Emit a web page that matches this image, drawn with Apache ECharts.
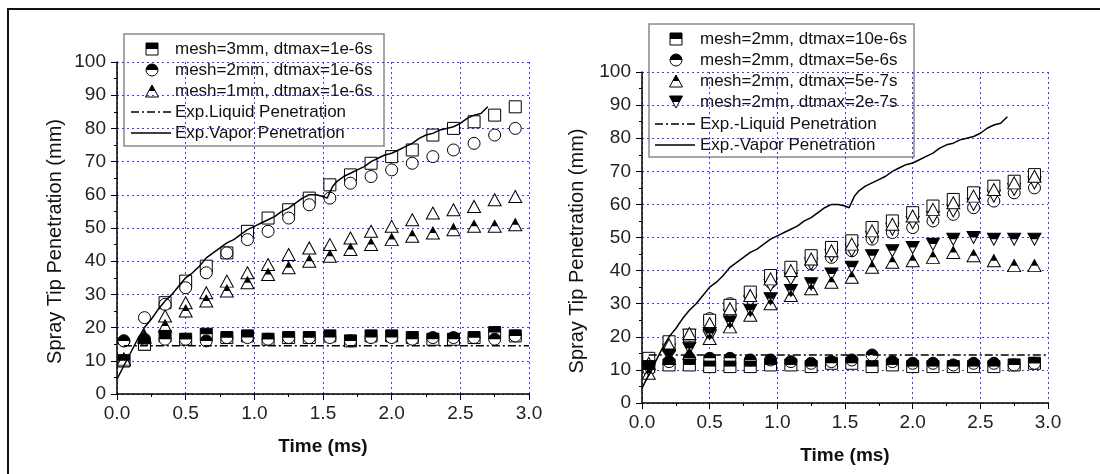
<!DOCTYPE html>
<html>
<head>
<meta charset="utf-8">
<script src="https://cdn.jsdelivr.net/npm/echarts@6/dist/echarts.min.js"></script>
<style>
  html, body { margin: 0; padding: 0; background: #fff; }
  #main { width: 1100px; height: 474px; }
</style>
</head>
<body>
<div id="main"></div>
<script>
  // simulation output times (ms)
  const times = [0.05, 0.2, 0.35, 0.5, 0.65, 0.8, 0.95, 1.1, 1.25, 1.4, 1.55, 1.7, 1.85, 2.0, 2.15, 2.3, 2.45, 2.6, 2.75, 2.9];

  // experiment
  const expTime = [0, 0.05, 0.1, 0.15, 0.2, 0.25, 0.3, 0.35, 0.4, 0.45, 0.5, 0.55, 0.6, 0.65, 0.7, 0.75, 0.8, 0.85, 0.9, 0.95, 1.0, 1.05, 1.1, 1.15, 1.2, 1.25, 1.3, 1.35, 1.4, 1.45, 1.5, 1.53, 1.57, 1.6, 1.65, 1.7, 1.75, 1.8, 1.85, 1.9, 1.95, 2.0, 2.05, 2.1, 2.15, 2.2, 2.25, 2.3, 2.35, 2.4, 2.45, 2.5, 2.55, 2.6, 2.65, 2.7];
  const expVapor = [4.5, 8.5, 12.5, 16.5, 20, 22.5, 25.5, 28, 30, 32.5, 35, 36.5, 38.5, 41, 42.5, 44, 45.5, 46.5, 48, 49.5, 50.5, 51.5, 52.5, 53.5, 55, 56, 57.5, 59, 60, 60, 59.5, 59, 62.5, 64, 65.5, 66.5, 67.5, 68.5, 70, 71, 72, 72.5, 73.5, 74.5, 75.5, 77, 78, 78.5, 79.5, 80, 80.5, 81.5, 83, 84, 84.5, 86.5];
  const expLiquidTime = [0.05, 3.0];
  const expLiquid = [14.5, 14.5];

  // left panel: mesh study, dtmax=1e-6s
  const mesh3Vapor  = [10, 15, 27.5, 34, 38.5, 42.5, 49, 53, 55.5, 59, 63, 66, 69.5, 71.5, 73.5, 78, 80, 82, 84, 86.5];
  const mesh3Liquid = [10, 15, 17.5, 16.5, 18, 17, 17.5, 16.5, 17, 17, 17.5, 16, 17.5, 17.5, 17, 16.5, 16.5, 17, 18.5, 17.5];
  const mesh2Vapor  = [16, 23, 27, 32, 36.5, 42.5, 46.5, 49, 53, 57, 59, 63.5, 65.5, 67.5, 69.5, 71.5, 73.5, 75.5, 78, 80];
  const mesh2Liquid = [16, 16.5, 16.5, 16.5, 16, 17, 17, 16.5, 17, 17, 17, 16, 17, 17, 16.5, 17, 17, 17, 16.5, 17.5];
  const mesh1Vapor  = [10.5, 17.5, 23.5, 27.5, 30.5, 34, 36.5, 39, 42, 44, 45, 47, 49, 50.5, 52.5, 54.5, 55.5, 56.5, 58.5, 59.5];
  const mesh1Liquid = [10.5, 17, 20.5, 25, 28, 31, 33.5, 36, 38, 40, 41.5, 43.5, 45, 46.5, 47.5, 48.5, 49.5, 50.5, 50.5, 51];

  // right panel: time step study, mesh=2mm
  const dt10e6Vapor  = [13.5, 18.5, 20.5, 25, 29.5, 33.5, 38.5, 41, 44.5, 47, 49, 53, 55, 57.5, 59.5, 61.5, 63.5, 65.5, 67, 69];
  const dt10e6Liquid = [11, 11.5, 11.5, 11, 11, 11, 11.5, 11.5, 11, 12, 12, 11, 11.5, 11, 11, 11, 11, 11, 11.5, 12];
  const dt5e6Vapor   = [11, 16, 19, 25.5, 30, 32.5, 36.5, 39, 42, 44, 46, 49.5, 51.5, 53, 55, 57, 59, 61, 63.5, 65];
  const dt5e6Liquid  = [10, 12.5, 13.5, 13.5, 13.5, 13, 13, 12.5, 12, 12.5, 13, 14.5, 12.5, 12, 12, 11.5, 12, 12, 11.5, 12];
  const dt5e7Vapor   = [12, 17.5, 21, 24, 28.5, 32.5, 37.5, 40, 43.5, 46, 48, 52, 54, 56.5, 58.5, 60.5, 62.5, 64.5, 66.5, 68.5];
  const dt5e7Liquid  = [9, 13.5, 15, 19.5, 23, 26.5, 30, 32.5, 34.5, 36.5, 38, 41, 42.5, 43, 44, 45.5, 44.5, 43, 41.5, 41.5];
  const dt2e7Vapor   = [11, 16, 20.5, 20, 26.5, 30.5, 35.5, 37.5, 42, 44.5, 46, 50, 52.5, 54.5, 56, 58, 60, 62.5, 64.5, 66.5];
  const dt2e7Liquid  = [10, 14.5, 16.5, 21, 24.5, 28, 31.5, 34, 36, 39, 41, 44.5, 46, 47, 48, 49.5, 50, 49.5, 49.5, 49.5];

  const FONT = '"Liberation Sans", Arial, sans-serif';
  const S = 12;

  // marker shapes: full outline + black top half
  const shapes = {
    square:   { sym: 'rect', size: [S, S], half: 'rect', halfSize: [S, S / 2] },
    circle:   { sym: 'circle', size: [S, S], half: 'path://M0,10 A10,10 0 0 1 20,10 Z', halfSize: [S, S / 2] },
    up:       { sym: 'triangle', size: [13, S], half: 'triangle', halfSize: [6.5, S / 2] },
    down:     { sym: 'path://M0,0 L20,0 L10,20 Z', size: [13, S], half: 'path://M0,0 L20,0 L15,10 L5,10 Z', halfSize: [13, S / 2] }
  };

  function pts(xs, ys) { return xs.map((x, i) => [x, ys[i]]); }

  function openSeries(g, shape, vals) {
    return {
      type: 'scatter', xAxisIndex: g, yAxisIndex: g,
      symbol: shapes[shape].sym, symbolSize: shapes[shape].size,
      itemStyle: { color: '#fff', borderColor: '#000', borderWidth: 1, opacity: 1 },
      data: pts(times, vals), z: 3
    };
  }
  function halfSeries(g, shape, vals) {
    return [
      openSeries(g, shape, vals),
      {
        type: 'scatter', xAxisIndex: g, yAxisIndex: g,
        symbol: shapes[shape].half, symbolSize: shapes[shape].halfSize,
        symbolOffset: [0, -S / 4],
        itemStyle: { color: '#000', borderWidth: 0, opacity: 1 },
        data: pts(times, vals), z: 4
      }
    ];
  }
  function expSeries(g) {
    return [
      { type: 'line', xAxisIndex: g, yAxisIndex: g, data: pts(expLiquidTime, expLiquid), symbol: 'none',
        lineStyle: { color: '#000', width: 1.5, type: [8, 3, 2, 3] }, z: 5 },
      { type: 'line', xAxisIndex: g, yAxisIndex: g, data: pts(expTime, expVapor), symbol: 'none',
        lineStyle: { color: '#000', width: 1.5 }, z: 5 }
    ];
  }

  const gridLine = { show: true, lineStyle: { color: '#3a3aff', width: 1, type: [2, 3] } };

  function xAxis(g) {
    return {
      gridIndex: g, type: 'value', min: 0, max: 3, interval: 0.5,
      name: 'Time (ms)', nameLocation: 'middle', nameGap: 43, nameMoveOverlap: false,
      nameTextStyle: { fontFamily: FONT, fontSize: 19, fontWeight: 'bold', color: '#111' },
      axisLine: { show: true, onZero: false, lineStyle: { color: '#000', width: 1.5 } },
      axisTick: { show: true, inside: false, length: 6, lineStyle: { color: '#000', width: 1 } },
      minorTick: { show: true, splitNumber: 2, length: 3, lineStyle: { color: '#000', width: 1 } },
      axisLabel: { fontFamily: FONT, fontSize: 19, color: '#222', margin: 10, formatter: v => v.toFixed(1) },
      splitLine: gridLine
    };
  }
  function yAxis(g, gap) {
    return {
      gridIndex: g, type: 'value', min: 0, max: 100, interval: 10,
      name: 'Spray Tip Penetration (mm)', nameLocation: 'middle', nameGap: gap, nameRotate: 90, nameMoveOverlap: false,
      nameTextStyle: { fontFamily: FONT, fontSize: 20, color: '#111', padding: [0, 27, 0, 0] },
      axisLine: { show: true, onZero: false, lineStyle: { color: '#000', width: 1.5 } },
      axisTick: { show: true, inside: false, length: 6, lineStyle: { color: '#000', width: 1 } },
      minorTick: { show: true, splitNumber: 2, length: 3, lineStyle: { color: '#000', width: 1 } },
      axisLabel: { fontFamily: FONT, fontSize: 19, color: '#222', margin: 11 },
      splitLine: gridLine
    };
  }

  // legend boxes drawn as graphics
  function icon(shape, cx, cy) {
    const out = { fill: '#fff', stroke: '#000', lineWidth: 1 };
    const blk = { fill: '#000' };
    if (shape === 'square') return [
      { type: 'rect', shape: { x: cx - 6, y: cy - 6, width: 12, height: 12 }, style: out },
      { type: 'rect', shape: { x: cx - 6, y: cy - 6, width: 12, height: 6 }, style: blk }];
    if (shape === 'circle') return [
      { type: 'circle', shape: { cx: cx, cy: cy, r: 6 }, style: out },
      { type: 'sector', shape: { cx: cx, cy: cy, r: 6, startAngle: Math.PI, endAngle: Math.PI * 2 }, style: blk }];
    if (shape === 'up') return [
      { type: 'polygon', shape: { points: [[cx, cy - 6], [cx - 6.5, cy + 6], [cx + 6.5, cy + 6]] }, style: out },
      { type: 'polygon', shape: { points: [[cx, cy - 6], [cx - 3.25, cy], [cx + 3.25, cy]] }, style: blk }];
    return [
      { type: 'polygon', shape: { points: [[cx - 6.5, cy - 6], [cx + 6.5, cy - 6], [cx, cy + 6]] }, style: out },
      { type: 'polygon', shape: { points: [[cx - 6.5, cy - 6], [cx + 6.5, cy - 6], [cx + 3.25, cy], [cx - 3.25, cy]] }, style: blk }];
  }
  function legend(box, rows, iconX, textX, lineX) {
    const els = [{ type: 'rect', shape: box, style: { fill: '#fff', stroke: '#8a8a8a', lineWidth: 1.5 } }];
    rows.forEach(r => {
      if (r.kind === 'dash' || r.kind === 'solid') {
        els.push({ type: 'line', shape: { x1: lineX[0], y1: r.y, x2: lineX[1], y2: r.y },
          style: { stroke: '#000', lineWidth: 1.5, lineDash: r.kind === 'dash' ? [8, 3, 2, 3] : null } });
      } else {
        els.push(...icon(r.kind, iconX, r.y));
      }
      els.push({ type: 'text', x: textX, y: r.y,
        style: { text: r.text, font: '17px ' + FONT, fill: '#111', verticalAlign: 'middle', align: 'left' } });
    });
    return { type: 'group', z: 100, children: els };
  }

  const leftRows = [
    { kind: 'square', y: 49, text: 'mesh=3mm, dtmax=1e-6s' },
    { kind: 'circle', y: 70, text: 'mesh=2mm, dtmax=1e-6s' },
    { kind: 'up', y: 91, text: 'mesh=1mm, dtmax=1e-6s' },
    { kind: 'dash', y: 112, text: 'Exp.Liquid Penetration' },
    { kind: 'solid', y: 133, text: 'Exp.Vapor Penetration' }
  ];
  const rightRows = [
    { kind: 'square', y: 39, text: 'mesh=2mm, dtmax=10e-6s' },
    { kind: 'circle', y: 60, text: 'mesh=2mm, dtmax=5e-6s' },
    { kind: 'up', y: 81, text: 'mesh=2mm, dtmax=5e-7s' },
    { kind: 'down', y: 102, text: 'mesh=2mm, dtmax=2e-7s' },
    { kind: 'dash', y: 124, text: 'Exp.-Liquid Penetration' },
    { kind: 'solid', y: 145, text: 'Exp.-Vapor Penetration' }
  ];

  const chart = echarts.init(document.getElementById('main'), null, { renderer: 'canvas' });

  const option = {
    animation: false,
    backgroundColor: '#fff',
    grid: [
      { left: 117, top: 62, width: 412, height: 332, outerBoundsMode: 'none' },
      { left: 642, top: 72, width: 406, height: 331, outerBoundsMode: 'none' }
    ],
    xAxis: [xAxis(0), xAxis(1)],
    yAxis: [yAxis(0, 52), yAxis(1, 55)],
    graphic: [
      { type: 'rect', z: 101, shape: { x: 8, y: 9, width: 1200, height: 600 }, style: { fill: 'none', stroke: '#111', lineWidth: 2 } },
      legend({ x: 124, y: 34, width: 260, height: 112 }, leftRows, 152, 175, [131, 171]),
      legend({ x: 649, y: 24, width: 265, height: 133 }, rightRows, 676, 700, [655, 695])
    ],
    series: [
      ...expSeries(0),
      openSeries(0, 'square', mesh3Vapor),
      openSeries(0, 'circle', mesh2Vapor),
      openSeries(0, 'up', mesh1Vapor),
      ...halfSeries(0, 'square', mesh3Liquid),
      ...halfSeries(0, 'circle', mesh2Liquid),
      ...halfSeries(0, 'up', mesh1Liquid),

      ...expSeries(1),
      openSeries(1, 'circle', dt5e6Vapor),
      openSeries(1, 'down', dt2e7Vapor),
      openSeries(1, 'square', dt10e6Vapor),
      openSeries(1, 'up', dt5e7Vapor),
      ...halfSeries(1, 'square', dt10e6Liquid),
      ...halfSeries(1, 'circle', dt5e6Liquid),
      ...halfSeries(1, 'up', dt5e7Liquid),
      ...halfSeries(1, 'down', dt2e7Liquid)
    ]
  };

  chart.setOption(option);
</script>
</body>
</html>
